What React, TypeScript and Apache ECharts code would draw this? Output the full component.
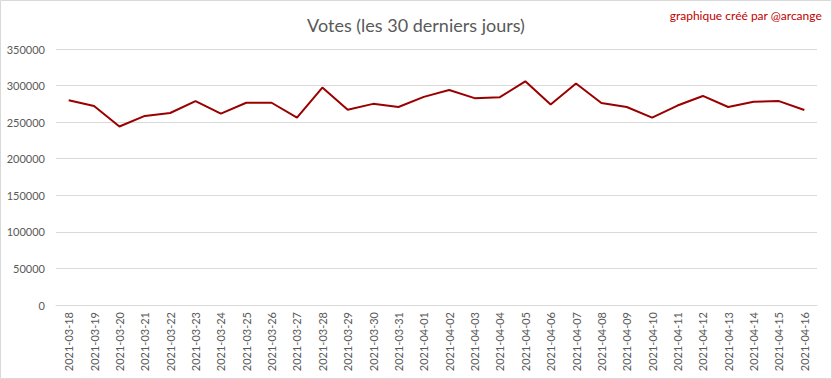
import React, { useEffect, useRef } from "react";
import * as echarts from "echarts";

const categories = [
  "2021-03-18", "2021-03-19", "2021-03-20", "2021-03-21", "2021-03-22", "2021-03-23",
  "2021-03-24", "2021-03-25", "2021-03-26", "2021-03-27", "2021-03-28", "2021-03-29",
  "2021-03-30", "2021-03-31", "2021-04-01", "2021-04-02", "2021-04-03", "2021-04-04",
  "2021-04-05", "2021-04-06", "2021-04-07", "2021-04-08", "2021-04-09", "2021-04-10",
  "2021-04-11", "2021-04-12", "2021-04-13", "2021-04-14", "2021-04-15", "2021-04-16",
];

const votes = [
  280000, 272000, 244000, 258500, 262500, 278800,
  261600, 276500, 276500, 256200, 297300, 267000,
  275000, 270700, 284500, 293900, 282800, 284200,
  305800, 274100, 302900, 276100, 270700, 256200,
  272700, 285800, 270700, 277800, 278800, 266600,
];

const titleText = "Votes (les 30 derniers jours)";
const creditText = "graphique créé par @arcange";

export default function App() {
  const ref = useRef<HTMLDivElement>(null);
  useEffect(() => {
    if (!ref.current) return;
    const chart = echarts.init(ref.current, undefined, { renderer: "svg" });
    const font = "Lato, 'Liberation Sans', sans-serif";
    chart.setOption({
      animation: false,
      backgroundColor: "#ffffff",
      textStyle: { fontFamily: font },
      title: {
        text: titleText,
        left: "center",
        top: 11,
        textStyle: { fontFamily: font, fontSize: 18, fontWeight: "normal", color: "#595959" },
      },
      graphic: [
        {
          type: "rect",
          shape: { x: 0.5, y: 0.5, width: 831, height: 378 },
          style: { fill: "none", stroke: "#d9d9d9", lineWidth: 1 },
          silent: true,
        },
        {
          type: "text",
          right: 10,
          top: 9,
          style: { text: creditText, fontFamily: font, fontSize: 12, fill: "#c00000" },
        },
      ],
      grid: { left: 56, right: 15, top: 49, bottom: 74, containLabel: false },
      xAxis: {
        type: "category",
        data: categories,
        boundaryGap: true,
        axisLine: { lineStyle: { color: "#d9d9d9", width: 1 } },
        axisTick: { show: false },
        axisLabel: {
          rotate: 90,
          interval: 0,
          color: "#595959",
          fontSize: 11,
          fontFamily: font,
          margin: 7,
        },
      },
      yAxis: {
        type: "value",
        min: 0,
        max: 350000,
        interval: 50000,
        axisLine: { show: false },
        axisTick: { show: false },
        splitLine: { lineStyle: { color: "#d9d9d9", width: 1 } },
        axisLabel: {
          color: "#595959",
          fontSize: 11,
          fontFamily: font,
          margin: 11,
          formatter: (v: number) => String(v),
        },
      },
      series: [
        {
          type: "line",
          data: votes,
          symbol: "none",
          lineStyle: { color: "#9a0000", width: 2 },
          itemStyle: { color: "#9a0000" },
        },
      ],
    });
    return () => chart.dispose();
  }, []);
  return (
    <div
      ref={ref}
      style={{ position: "fixed", left: 0, top: 0, width: 832, height: 379 }}
    />
  );
}
